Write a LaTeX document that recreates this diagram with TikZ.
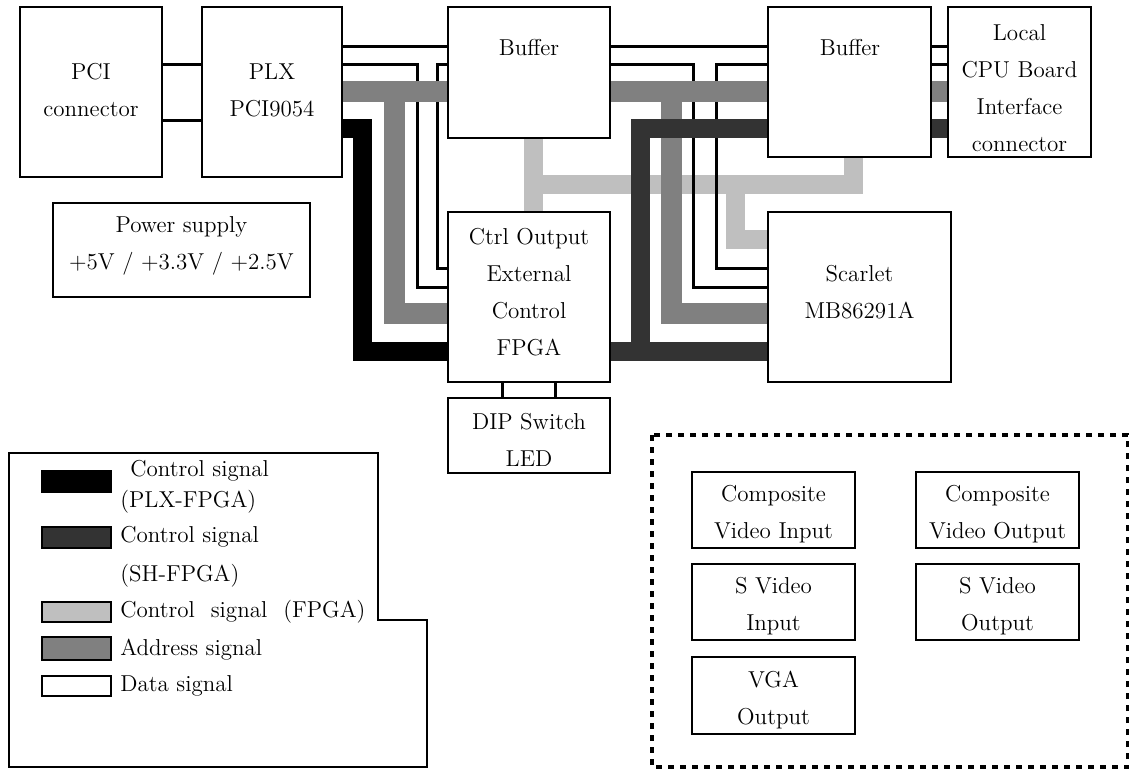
\documentclass[tikz,border=0pt]{standalone}
\usetikzlibrary{fit,backgrounds}

\tikzset{
  box/.style={draw, line width=0.9pt, fill=white, inner sep=0pt},
  txt/.style={align=center, inner sep=0pt},
  data/.style={line width=1.5pt},
  addr/.style={line width=10.5pt, black!50},
  ctrlplx/.style={line width=9.5pt, black},
  ctrlsh/.style={line width=9.5pt, black!80},
  ctrlfpga/.style={line width=9.5pt, black!25},
  swatch/.style={line width=0.9pt},
  legtext/.style={anchor=west, inner sep=0pt},
}

\begin{document}
\begin{tikzpicture}[x=0.5pt, y=-0.5pt, font=\fontsize{11.5pt}{18.5pt}\selectfont]
    \useasboundingbox (0,0) rectangle (1129,771);

    % 上排：PCI / PLX / 缓冲器 / 本地CPU
    \node[box, fit={(20,7) (162,177)}] (pci) {};
    \node[txt] (pcitxt) at (91,90) {PCI\\connector};
    \node[box, fit={(202,7) (342,177)}] (plx) {};
    \node[txt] (plxtxt) at (272,90) {PLX\\PCI9054};
    \node[box, fit={(448,7) (610,138)}] (buf1) {};
    \node[txt] (buf1txt) at (529,48) {Buffer};
    \node[box, fit={(768,7) (931,157)}] (buf2) {};
    \node[txt] (buf2txt) at (850,48) {Buffer};
    \node[box, fit={(948,7) (1091,157)}] (cpu) {};
    \node[txt] (cputxt) at (1019.5,88.5) {Local\\CPU Board\\Interface\\connector};

    % 中排
    \node[box, fit={(53,203) (310,297)}] (power) {};
    \node[txt] (powertxt) at (181.5,246) {Power supply\\+5V / +3.3V / +2.5V};
    \node[box, fit={(448,212) (610,382)}] (fpga) {};
    \node[txt] (fpgatxt) at (529,292.5) {Ctrl Output\\External\\Control\\FPGA};
    \node[box, fit={(768,212) (951,382)}] (scarlet) {};
    \node[txt] (scarlettxt) at (859.5,292) {Scarlet\\MB86291A};
    \node[box, fit={(448,398) (610,473)}] (dip) {};
    \node[txt] (diptxt) at (529,439.5) {DIP Switch\\LED};

    % 总线
    \begin{scope}[on background layer]
        % 控制信号 (FPGA)
        \draw[ctrlfpga] (buf1.south -| 533,0) -- (fpga.north -| 533,0);
        \draw[ctrlfpga] (533,184) -- (853,184) -- (buf2.south -| 853,0);
        \draw[ctrlfpga] (735,184) -- (735,239) -- (scarlet.west |- 0,239);
        % 数据信号
        \draw[data] (pci.east |- 0,64) -- (plx.west |- 0,64);
        \draw[data] (pci.east |- 0,120) -- (plx.west |- 0,120);
        \foreach \a/\b in {plx/buf1, buf1/buf2, buf2/cpu} {
            \draw[data] (\a.east |- 0,46) -- (\b.west |- 0,46);
        }
        \draw[data] (buf2.east |- 0,64) -- (cpu.west |- 0,64);
        \draw[data] (plx.east |- 0,64) -- (417,64) -- (417,287) -- (fpga.west |- 0,287);
        \draw[data] (buf1.west |- 0,64) -- (437,64) -- (437,268) -- (fpga.west |- 0,268);
        \draw[data] (buf1.east |- 0,64) -- (693,64) -- (693,287) -- (scarlet.west |- 0,287);
        \draw[data] (buf2.west |- 0,64) -- (716,64) -- (716,268) -- (scarlet.west |- 0,268);
        \draw[data] (fpga.south -| 502,0) -- (dip.north -| 502,0);
        \draw[data] (fpga.south -| 555,0) -- (dip.north -| 555,0);
        % 地址信号
        \foreach \a/\b in {plx/buf1, buf1/buf2, buf2/cpu} {
            \draw[addr] (\a.east |- 0,91) -- (\b.west |- 0,91);
        }
        \draw[addr] (394,91) -- (394,313) -- (fpga.west |- 0,313);
        \draw[addr] (671,91) -- (671,313) -- (scarlet.west |- 0,313);
        % 控制信号 (PLX-FPGA / SH-FPGA)
        \draw[ctrlplx] (plx.east |- 0,128) -- (362,128) -- (362,351) -- (fpga.west |- 0,351);
        \draw[ctrlsh] (buf2.west |- 0,128) -- (640,128) -- (640,351);
        \draw[ctrlsh] (fpga.east |- 0,351) -- (scarlet.west |- 0,351);
        \draw[ctrlsh] (buf2.east |- 0,128) -- (cpu.west |- 0,128);
    \end{scope}

    % 图例
    \draw[line width=0.9pt] (9,453) -- (378,453) -- (378,620) -- (427,620) -- (427,767) -- (9,767) -- cycle;
    \filldraw[swatch, fill=black] (42,471) rectangle (111,492);
    \filldraw[swatch, fill=black!80] (42,527) rectangle (111,548);
    \filldraw[swatch, fill=black!25] (42,602) rectangle (111,622);
    \filldraw[swatch, fill=black!50] (42,637) rectangle (111,660);
    \filldraw[swatch, fill=white] (42,676) rectangle (111,696);
    \node[legtext] (leg1) at (130,471) {Control signal};
    \node[legtext] (leg1b) at (120,502) {(PLX-FPGA)};
    \node[legtext] (leg2) at (120,537) {Control signal};
    \node[legtext] (leg2b) at (120,576) {(SH-FPGA)};
    \node[legtext] (leg3) at (120,612) {Control\hspace{8pt}signal\hspace{8pt}(FPGA)};
    \node[legtext] (leg4) at (120,650) {Address signal};
    \node[legtext] (leg5) at (120,686) {Data signal};

    % 视频接口
    \draw[line width=2pt, dash pattern=on 3pt off 3pt] (652,435) rectangle (1128,767);
    \node[box, fit={(692,472) (855,548)}] (cvin) {};
    \node[txt] (cvintxt) at (773.5,514.5) {Composite\\Video Input};
    \node[box, fit={(916,472) (1079,548)}] (cvout) {};
    \node[txt] (cvouttxt) at (997.5,514.5) {Composite\\Video Output};
    \node[box, fit={(692,564) (855,640)}] (svin) {};
    \node[txt] (svintxt) at (773.5,606.5) {S Video\\Input};
    \node[box, fit={(916,564) (1079,640)}] (svout) {};
    \node[txt] (svouttxt) at (997.5,606.5) {S Video\\Output};
    \node[box, fit={(692,657) (855,734)}] (vga) {};
    \node[txt] (vgatxt) at (773.5,700.5) {VGA\\Output};
\end{tikzpicture}
\end{document}
